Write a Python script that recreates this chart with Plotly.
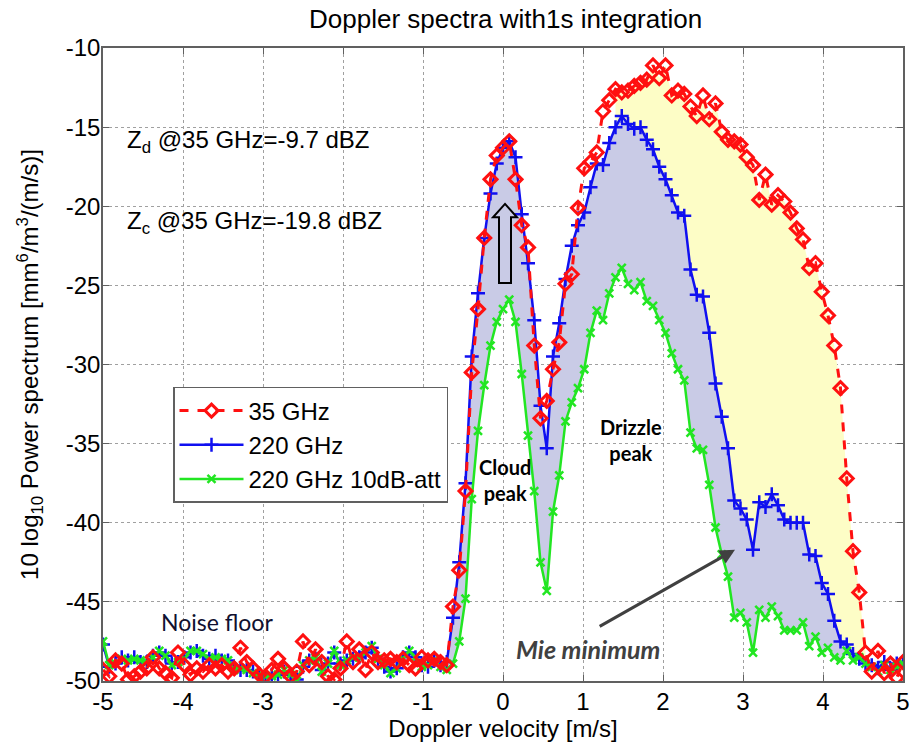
import numpy as np
import plotly.graph_objects as go

# Doppler velocity bins [m/s]
n_bins = 129
velocity = np.linspace(-5, 5, n_bins)

# 35 GHz spectrum [dB]
p35 = [-49.3, -49.7, -48.7, -48.9, -49.9, -49.7, -49.4, -49.2, -48.5, -49.2,
       -49.5, -49.8, -48.2, -49.0, -49.6, -49.2, -49.4, -49.0, -49.2, -49.0,
       -49.4, -49.2, -47.9, -48.8, -49.2, -49.6, -49.7, -49.3, -48.6, -49.2,
       -49.7, -49.4, -47.5, -49.0, -48.0, -48.8, -49.7, -49.9, -49.2, -47.5,
       -48.8, -48.0, -49.3, -48.2, -48.8, -48.7, -48.6, -48.8, -48.6, -49.0,
       -49.2, -48.5, -48.7, -48.6, -48.8,
       -49.0, -45.3, -43.0, -38.0, -30.5, -26.5, -22.0, -18.3, -16.8, -16.3,
       -15.9, -18.3, -21.2, -22.6, -28.8, -33.4, -32.3, -30.3, -28.6, -24.9,
       -24.3, -20.1, -17.6, -17.2, -16.6, -14.0, -13.3, -12.6, -12.8, -12.7,
       -12.4, -12.2, -12.0, -11.1, -11.9, -11.1, -13.0, -12.7, -12.9, -13.7,
       -14.3, -13.0, -14.5, -13.5, -15.3, -15.8, -15.9, -16.1, -16.9, -17.4,
       -19.6, -18.0, -19.9, -19.3, -19.7, -20.4, -21.4, -22.1, -23.9, -23.6,
       -25.4, -26.9, -28.8, -31.5, -37.2, -41.8, -44.4, -48.2, -49.4, -48.1,
       -49.5, -48.9, -49.8, -48.8]

# 220 GHz spectrum [dB]
p220 = [-47.7, -49.1, -48.9, -48.5, -48.7, -48.5, -48.8, -48.8, -48.4, -48.2,
        -48.4, -48.9, -48.8, -48.5, -48.2, -48.1, -48.4, -48.6, -48.4, -48.7,
        -48.7, -49.2, -49.3, -49.3, -49.4, -49.6, -49.8, -49.6, -49.6, -49.4,
        -49.6, -49.9, -49.1, -48.7, -48.6, -49.3, -48.9, -48.2, -48.9, -48.7,
        -48.6, -48.5, -48.2, -47.9, -48.6, -49.1, -49.4, -49.2, -48.5, -48.2,
        -48.5, -49.0, -49.1, -48.7, -49.0,
        -48.8, -46.0, -42.5, -37.5, -29.5, -25.5, -22.0, -19.2, -17.3, -16.3,
        -15.9, -16.9, -20.5, -23.6, -27.2, -32.6, -35.3, -29.5, -27.4, -24.6,
        -22.5, -21.2, -20.4, -18.8, -17.3, -17.4, -16.0, -15.0, -14.3, -14.8,
        -15.1, -15.0, -15.8, -16.4, -17.5, -18.3, -19.3, -20.4, -20.6, -24.0,
        -25.6, -25.7, -28.0, -31.2, -33.3, -35.3, -38.6, -39.1, -39.8, -41.7,
        -38.7, -39.0, -38.2, -38.9, -39.8, -40.0, -40.0, -40.0, -42.0, -42.1,
        -43.8, -44.5, -46.2, -47.5, -47.7, -48.3, -48.6, -48.9, -49.0, -49.2,
        -48.8, -49.3, -48.9, -48.8]

# 220 GHz with 10 dB attenuation [dB]
p220att = [-47.5, -49.0, -48.9, -48.6, -48.7, -48.6, -48.7, -48.8, -48.5, -48.1,
           -48.4, -49.0, -48.8, -48.6, -48.1, -48.1, -48.3, -48.6, -48.5, -48.6,
           -48.7, -49.3, -49.2, -49.3, -49.5, -49.6, -49.7, -49.7, -49.6, -49.3,
           -49.6, -50.0, -49.0, -48.7, -48.5, -49.4, -48.9, -48.1, -49.0, -48.7,
           -48.5, -48.5, -48.2, -47.8, -48.6, -49.0, -49.5, -49.2, -48.6, -48.1,
           -48.5, -49.1, -49.0, -48.7, -49.1,
           -49.3, -48.9, -47.5, -44.8, -38.5, -34.2, -31.3, -28.8, -27.3, -26.5,
           -25.9, -27.3, -30.6, -34.5, -38.0, -42.5, -44.3, -39.3, -37.0, -33.6,
           -32.4, -31.5, -30.3, -28.0, -26.6, -27.2, -25.5, -24.5, -23.9, -24.9,
           -25.3, -24.8, -26.0, -26.3, -27.2, -28.0, -29.3, -30.3, -31.0, -34.3,
           -35.3, -35.4, -37.6, -40.3, -42.0, -43.4, -46.0, -45.7, -46.3, -48.2,
           -45.5, -46.0, -45.3, -45.9, -46.8, -46.8, -46.8, -46.3, -47.8, -47.2,
           -48.2, -47.9, -48.5, -48.7, -48.1, -48.7, -48.5, -48.9, -49.1, -49.4,
           -49.0, -49.3, -49.1, -48.9]

# tick values / labels (hyphen minus as in the reference)
x_ticks = [-5, -4, -3, -2, -1, 0, 1, 2, 3, 4, 5]
x_labels = ["-5", "-4", "-3", "-2", "-1", "0", "1", "2", "3", "4", "5"]
y_ticks = [-50, -45, -40, -35, -30, -25, -20, -15, -10]
y_labels = ["-50", "-45", "-40", "-35", "-30", "-25", "-20", "-15", "-10"]

FONT = "Liberation Sans, Arial, sans-serif"
RED = "#ff1010"
BLUE = "#1010f0"
GREEN = "#22e622"

fig = go.Figure()

# shaded areas
lav_lo, lav_hi = 55, 123
fig.add_trace(go.Scatter(x=velocity[lav_lo:lav_hi], y=p220att[lav_lo:lav_hi], mode="lines",
                         line=dict(width=0), showlegend=False, hoverinfo="skip"))
fig.add_trace(go.Scatter(x=velocity[lav_lo:lav_hi], y=p220[lav_lo:lav_hi], mode="lines",
                         line=dict(width=0), fill="tonexty", fillcolor="#c9cbe6",
                         showlegend=False, hoverinfo="skip"))
yel_lo, yel_hi = 82, 123
fig.add_trace(go.Scatter(x=velocity[yel_lo:yel_hi], y=p220[yel_lo:yel_hi], mode="lines",
                         line=dict(width=0), showlegend=False, hoverinfo="skip"))
fig.add_trace(go.Scatter(x=velocity[yel_lo:yel_hi], y=p35[yel_lo:yel_hi], mode="lines",
                         line=dict(width=0), fill="tonexty", fillcolor="#fdfdc6",
                         showlegend=False, hoverinfo="skip"))

# spectra lines
fig.add_trace(go.Scatter(x=velocity, y=p220, mode="lines+markers", name="220 GHz",
                         line=dict(color=BLUE, width=2.5), legendrank=2,
                         marker=dict(symbol="cross-thin", size=10, line=dict(color=BLUE, width=2.5))))
fig.add_trace(go.Scatter(x=velocity, y=p220att, mode="lines+markers", name="220 GHz 10dB-att",
                         line=dict(color=GREEN, width=2.5), legendrank=3,
                         marker=dict(symbol="x-thin", size=8, line=dict(color=GREEN, width=2.5))))
fig.add_trace(go.Scatter(x=velocity, y=p35, mode="lines+markers", name="35 GHz",
                         line=dict(color=RED, width=3, dash="dash"), legendrank=1,
                         marker=dict(symbol="diamond-open", size=10, color=RED, line=dict(color=RED, width=3))))

# hollow block arrow at cloud peak
fig.add_shape(type="path",
              path="M 0.025 -19.85 L 0.175 -20.7 L 0.1 -20.7 L 0.1 -24.85 L -0.05 -24.85 L -0.05 -20.7 L -0.125 -20.7 Z",
              xref="x", yref="y", line=dict(color="black", width=2), fillcolor="rgba(0,0,0,0)")

ann_font = dict(family=FONT, size=24, color="black")
fig.add_annotation(xref="paper", yref="y", x=0.027, y=-15.9, xanchor="left", yanchor="middle",
                   text="Z<sub>d</sub> @35 GHz=-9.7 dBZ", showarrow=False, font=ann_font)
fig.add_annotation(xref="paper", yref="y", x=0.027, y=-21.0, xanchor="left", yanchor="middle",
                   text="Z<sub>c</sub> @35 GHz=-19.8 dBZ", showarrow=False, font=ann_font)
fig.add_annotation(x=-3.58, y=-46.3, text="Noise floor", showarrow=False,
                   font=dict(family="Lato, sans-serif", size=23, color="#101030"))
fig.add_annotation(x=0.03, y=-37.3, text="<b>Cloud<br>peak</b>", showarrow=False,
                   font=dict(family="Lato, sans-serif", size=20, color="black"))
fig.add_annotation(x=1.6, y=-34.76, text="<b>Drizzle<br>peak</b>", showarrow=False,
                   font=dict(family="Lato, sans-serif", size=20, color="black"))
fig.add_annotation(x=1.06, y=-48.0, text="<b><i>Mie minimum</i></b>", showarrow=False,
                   font=dict(family="Lato, sans-serif", size=25, color="#404040"))
fig.add_annotation(x=2.9, y=-41.7, ax=1.19, ay=-46.6, axref="x", ayref="y", xref="x", yref="y",
                   text="", showarrow=True, arrowhead=2, arrowsize=1, arrowwidth=3, arrowcolor="#404040")

axis_common = dict(showgrid=True, griddash="dot", gridcolor="#a0a0a0", gridwidth=1,
                   showline=True, linecolor="#606060", linewidth=1.5, mirror="ticks",
                   ticks="inside", ticklen=6, tickcolor="#606060", zeroline=False,
                   automargin=False,
                   tickfont=dict(family=FONT, size=24, color="black"))

fig.update_layout(
    width=911, height=743,
    margin=dict(l=103, r=8, t=48, b=62),
    paper_bgcolor="white", plot_bgcolor="white",
    title=dict(text="Doppler spectra with1s integration", x=0.555, xanchor="center",
               y=0.975, yanchor="middle", font=dict(family=FONT, size=26, color="black")),
    xaxis=dict(range=[-5, 5], tickvals=x_ticks, ticktext=x_labels, ticklabelstandoff=-2,
               title=dict(text="Doppler velocity [m/s]", standoff=4,
                          font=dict(family=FONT, size=24, color="black")), **axis_common),
    yaxis=dict(range=[-50, -10], tickvals=y_ticks, ticktext=y_labels, ticklabelstandoff=-4,
               title=dict(
        text="10 log<sub>10</sub> Power spectrum [mm<sup>6</sup>/m<sup>3</sup>/(m/s)]", standoff=20,
        font=dict(family=FONT, size=24, color="black")), **axis_common),
    legend=dict(x=0.0875, y=0.4645, xanchor="left", yanchor="top", traceorder="normal",
                bgcolor="white", bordercolor="#606060", borderwidth=1.5,
                font=dict(family=FONT, size=24, color="black"), itemwidth=64,
                tracegroupgap=0),
    showlegend=True,
)

fig.write_html("out.html", config={"displayModeBar": False},
               post_script="document.body.style.margin='0px';")
